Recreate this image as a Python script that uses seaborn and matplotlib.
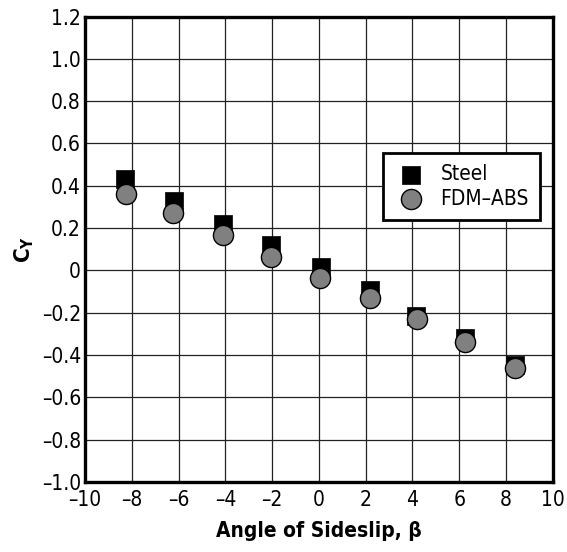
import numpy as np
import pandas as pd
import matplotlib
matplotlib.use("Agg")
import matplotlib.pyplot as plt
import seaborn as sns
from matplotlib.font_manager import fontManager

# data
steel_beta = [-8.3, -6.2, -4.1, -2.05, 0.1, 2.2, 4.17, 6.24, 8.4]
steel_cy = [0.43, 0.328, 0.219, 0.121, 0.016, -0.094, -0.215, -0.322, -0.445]
abs_beta = [-8.25, -6.25, -4.1, -2.04, 0.04, 2.17, 4.2, 6.23, 8.37]
abs_cy = [0.36, 0.27, 0.167, 0.062, -0.036, -0.132, -0.231, -0.337, -0.46]

x_ticks = list(range(-10, 11, 2))
y_ticks = [-1.0, -0.8, -0.6, -0.4, -0.2, 0, 0.2, 0.4, 0.6, 0.8, 1.0, 1.2]
y_labels = ["\u20131.0", "\u20130.8", "\u20130.6", "\u20130.4", "\u20130.2", "0",
            "0.2", "0.4", "0.6", "0.8", "1.0", "1.2"]

df = pd.concat([
    pd.DataFrame({"beta": steel_beta, "cy": steel_cy, "material": "Steel"}),
    pd.DataFrame({"beta": abs_beta, "cy": abs_cy, "material": "FDM\u2013ABS"}),
])

sns.set_style("white")
# condensed look like the reference (DejaVu Sans Condensed if it is there)
names = {f.name for f in fontManager.ttflist}
main_font = "Liberation Sans Narrow" if "Liberation Sans Narrow" in names else "DejaVu Sans"
plt.rcParams["font.family"] = [main_font, "DejaVu Sans"]
plt.rcParams["font.stretch"] = "condensed"
plt.rcParams["text.color"] = "black"
plt.rcParams["xtick.color"] = "black"
plt.rcParams["ytick.color"] = "black"
plt.rcParams["axes.labelcolor"] = "black"

fig = plt.figure(figsize=(5.67, 5.52), dpi=100)
ax = fig.add_axes([0.150, 0.127, 0.825, 0.843])

sns.scatterplot(data=df[df.material == "Steel"], x="beta", y="cy", marker="s",
                s=180, color="black", edgecolor="black", linewidth=0.5,
                label="Steel", ax=ax, zorder=3)
sns.scatterplot(data=df[df.material != "Steel"], x="beta", y="cy", marker="o",
                s=210, color="#808080", edgecolor="black", linewidth=1.0,
                label="FDM\u2013ABS", ax=ax, zorder=4)

ax.set_xlim(-10, 10)
ax.set_ylim(-1.0, 1.2)
ax.set_xticks(x_ticks)
ax.set_xticklabels([str(t).replace("-", "\u2013") for t in x_ticks])
ax.set_yticks(y_ticks)
ax.set_yticklabels(y_labels)
ax.tick_params(length=0, labelsize=15)
ax.tick_params(axis="x", pad=6)
ax.tick_params(axis="y", pad=3)
ax.grid(True, color="#222222", linewidth=0.9)
ax.set_axisbelow(True)
for sp in ax.spines.values():
    sp.set_linewidth(2.4)
    sp.set_color("black")

ax.set_xlabel("Angle of Sideslip, \u03b2", fontsize=15, fontweight="bold", labelpad=8)
ax.set_ylabel(r"$\mathbf{C_Y}$", fontsize=16, labelpad=4)

leg = ax.legend(loc="upper right", bbox_to_anchor=(0.973, 0.707), borderaxespad=0,
                fontsize=15, frameon=True, fancybox=False, framealpha=1,
                edgecolor="black", borderpad=0.55, handletextpad=0.6,
                labelspacing=0.2, handlelength=1.6)
leg.get_frame().set_linewidth(2.0)

fig.savefig("out.png", dpi=100)
